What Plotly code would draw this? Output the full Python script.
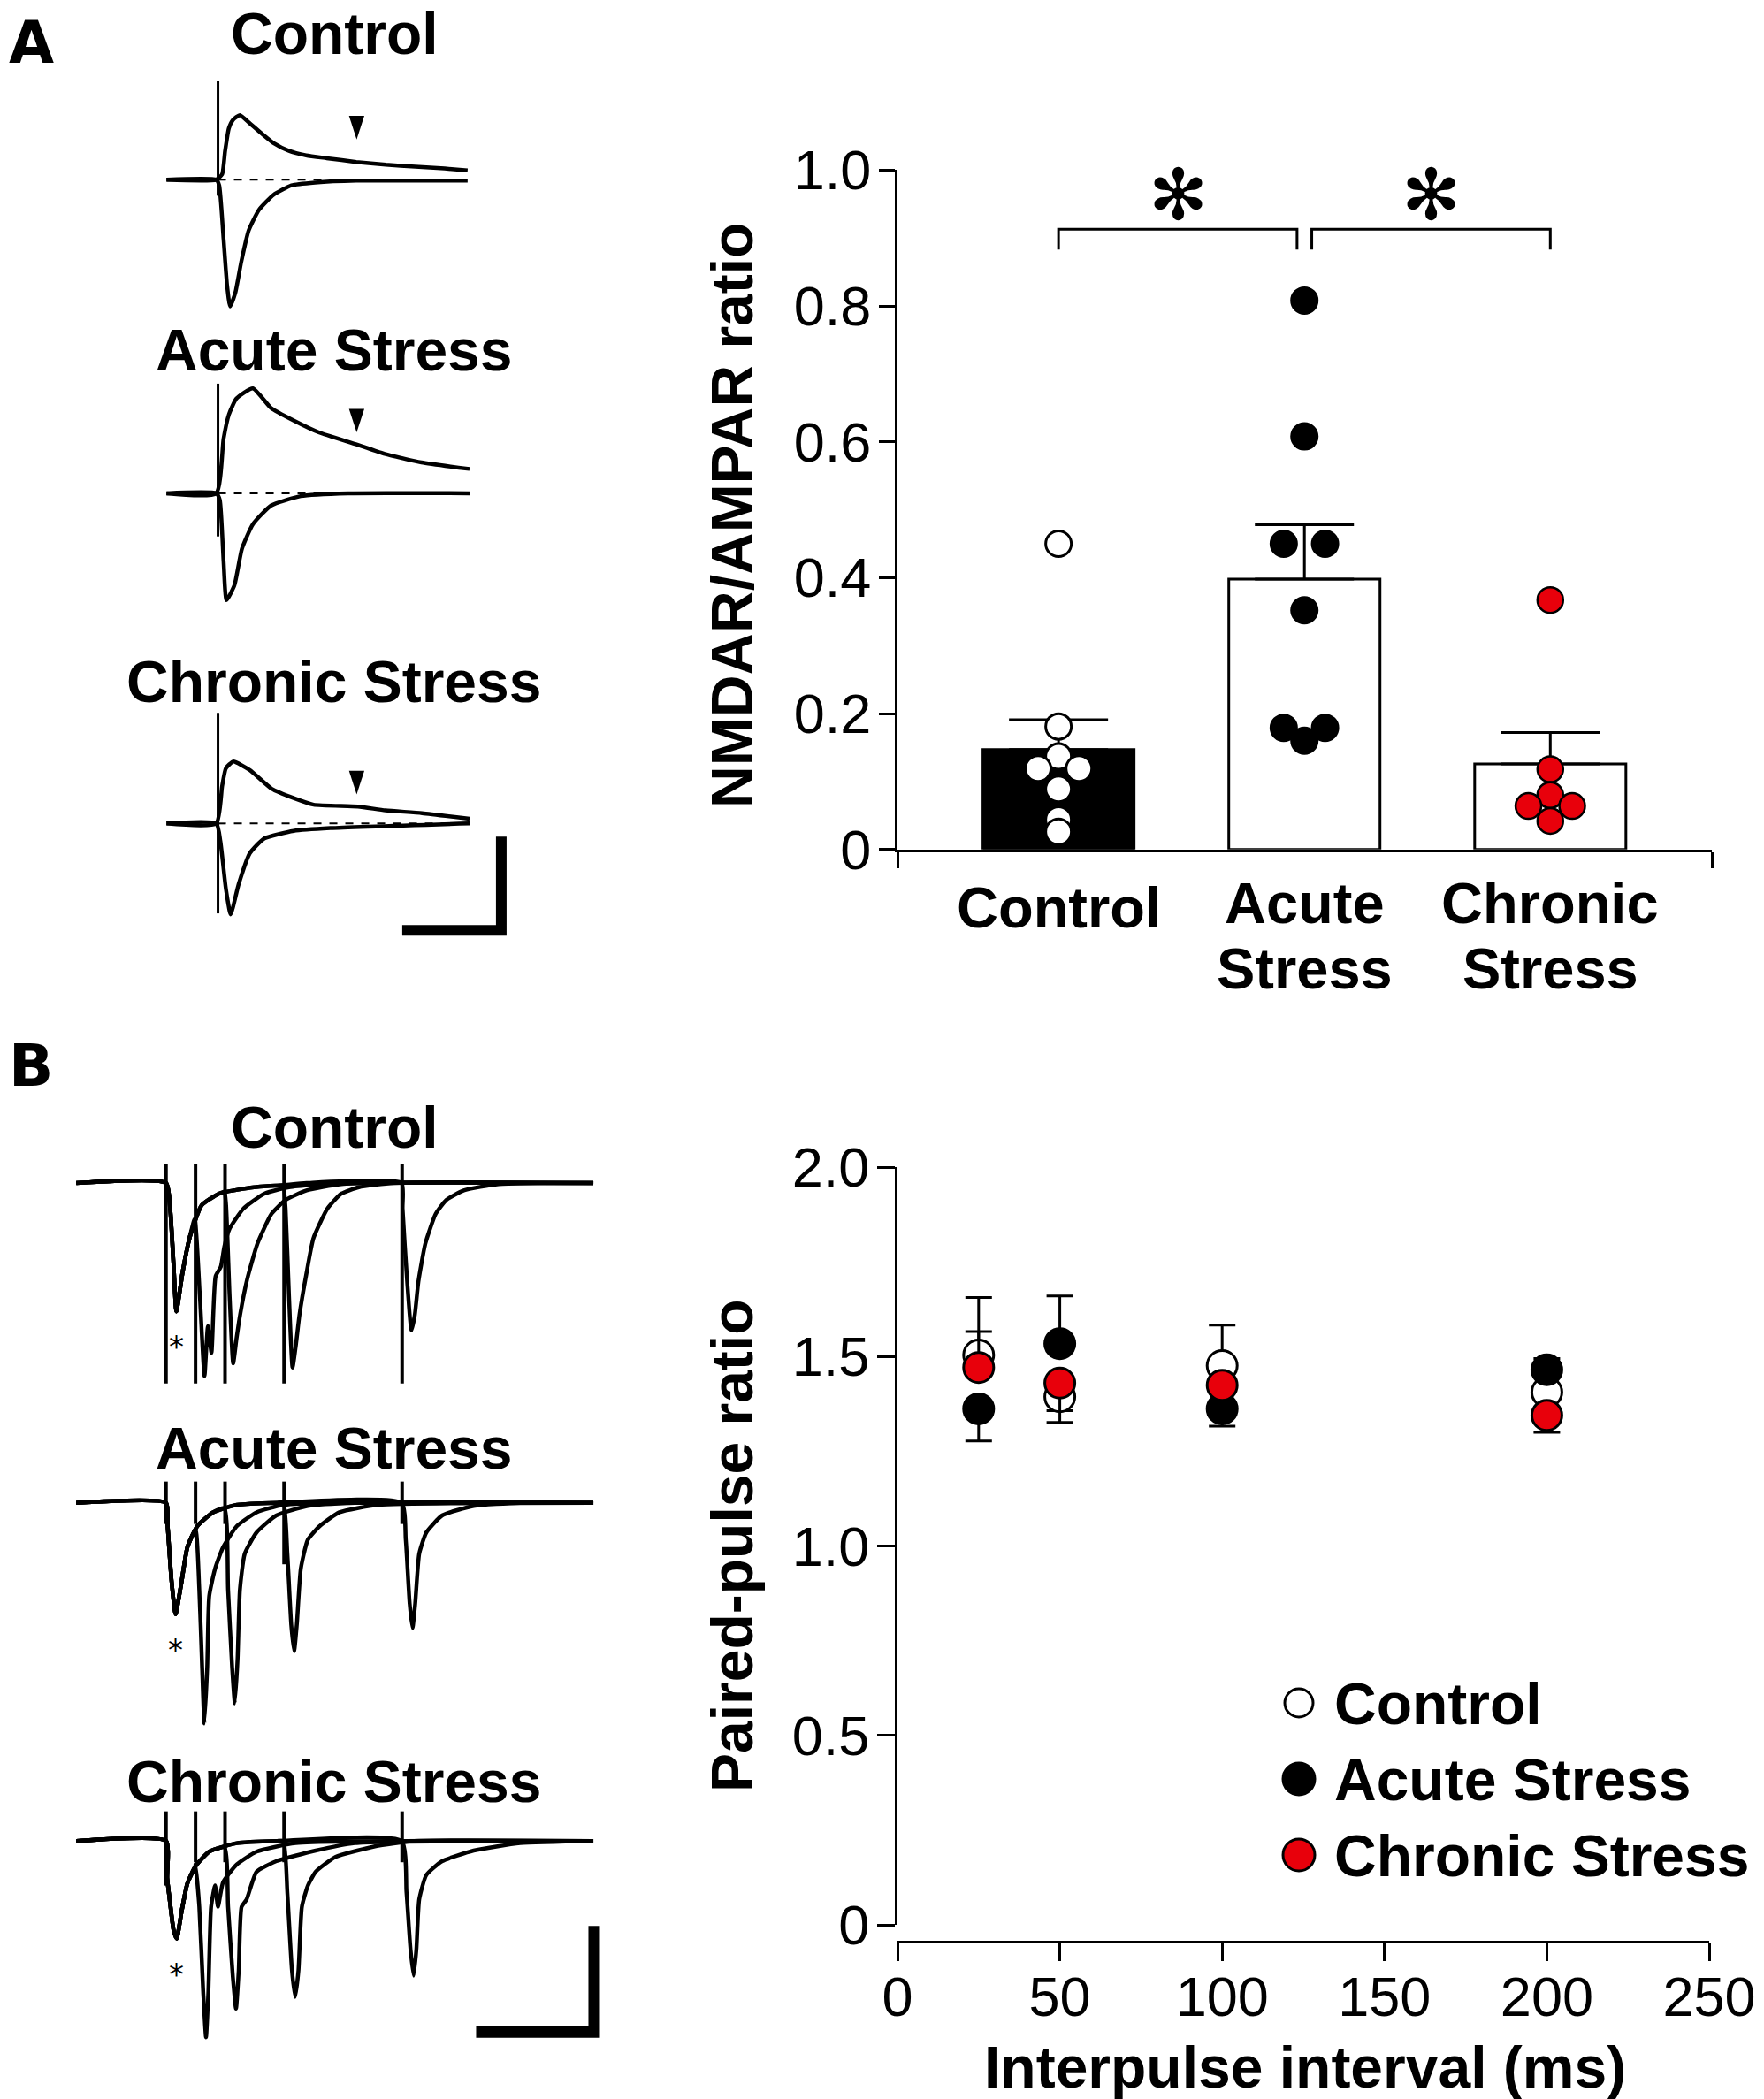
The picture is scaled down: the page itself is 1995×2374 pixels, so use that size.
import plotly.graph_objects as go

W, H = 1995, 2374
FONT = "Liberation Sans, Arial, Helvetica, sans-serif"
SYMFONT = "DejaVu Sans"
RED = "#e8000b"

# ===================== DATA =====================
# Panel A (right): NMDAR/AMPAR ratio
group_pos = [0, 1, 2]
group_lines = [["Control"], ["Acute", "Stress"], ["Chronic", "Stress"]]
bar_mean = [0.147, 0.398, 0.126]
bar_sem = [0.044, 0.080, 0.046]
pts_control = [0.450, 0.181, 0.137, 0.119, 0.119, 0.089, 0.044, 0.026]
pts_acute = [0.808, 0.608, 0.450, 0.450, 0.352, 0.179, 0.179, 0.160]
pts_chronic = [0.367, 0.118, 0.080, 0.064, 0.064, 0.042]
sig_pairs = [(0, 1), (1, 2)]
sig_label = "\u273B"

# Panel B (right): paired-pulse ratio
intervals = [25, 50, 100, 200]
ppr_control = [1.504, 1.394, 1.476, 1.406]
ppr_control_up = [0.062, 0, 0.107, 0]
ppr_control_dn = [0, 0.037, 0, 0]
ppr_acute = [1.362, 1.534, 1.362, 1.465]
ppr_acute_up = [0, 0.126, 0, 0.03]
ppr_acute_dn = [0.085, 0, 0.046, 0]
ppr_chronic = [1.471, 1.430, 1.424, 1.345]
ppr_chronic_up = [0.185, 0, 0, 0]
ppr_chronic_dn = [0, 0.104, 0, 0.045]
legend_names = ["Control", "Acute Stress", "Chronic Stress"]

# Panel A (left): example NMDAR (upper) / AMPAR (lower) EPSCs, t in ms, I in pA
A_titles = ["Control", "Acute Stress", "Chronic Stress"]
A_up_t = [[-26, -0.9, 2.1, 3.6, 5.5, 7.6, 11.0, 16.2, 22.2, 28.1, 35.6, 44.5, 54.9, 69.8, 84.7, 99.6, 114.4, 126],
          [-26, -0.9, 2.8, 5.5, 9.3, 17.6, 26.8, 37.9, 50.9, 70.3, 84.2, 102.7, 127],
          [-26, -0.9, 2.1, 4.0, 7.7, 16.0, 27.1, 38.2, 48.3, 70.6, 84.5, 103, 127]]
A_up_i = [[0, 0, 6, 31, 55, 64, 69, 60, 49, 39, 31, 26, 23, 19, 16, 14, 12, 10],
          [0, 0, 58, 84, 101, 112, 91, 78, 65, 52, 42, 33, 26],
          [0, 0, 40, 59, 66, 57, 37, 27, 20, 18, 14, 11, 5]]
A_lo_t = [[-26, -0.9, 0.6, 2.8, 4.6, 6.1, 8.8, 11.7, 15.5, 20.7, 28.1, 37.1, 49, 69.8, 126],
          [-26, -0.9, 0.9, 2.8, 4.3, 8.3, 12.1, 17.6, 26.8, 41.7, 65.7, 127],
          [-26, -0.9, 1.2, 4.0, 6.4, 10.4, 16.0, 23.4, 38.2, 56.7, 127]]
A_lo_i = [[0, 0, -6, -63, -113, -135, -120, -88, -54, -32, -16, -6, -3, -1, -1],
          [0, 0, -7, -72, -114, -98, -59, -33, -13, -3, 0, 0],
          [0, 0, -19, -70, -97, -65, -32, -16, -8, -5, 0]]
A_stim_top = [105, 117, 118]
A_stim_bot = [-17, -46, -96]
A_arrow_t = 70
A_arrow_tip = [43, 65, 31]
A_scale = (50, 100)  # ms, pA

# Panel B (left): paired-pulse EPSCs
B_titles = ["Control", "Acute Stress", "Chronic Stress"]
B_stim_t = [0, 25, 50, 100, 200]
B_first_t = [[-76, 0, 3.5, 6.5, 8.8, 13.9, 19.9, 30.2, 45, 74.6, 99, 119, 362],
             [-76, 0, 1.4, 4.8, 8.1, 13.1, 18.1, 26.5, 39.9, 60, 94, 362],
             [-76, 0, 1.0, 3.1, 6.4, 9.1, 13.1, 18.1, 24.8, 36.6, 60, 94, 362]]
B_first_i = [[0, 0, -24, -79, -121, -85, -52, -21, -10, -4, -2, 0, 0],
             [0, 0, -22, -75, -105, -75, -42, -22, -9, -2, 0, 0],
             [0, 0, -35, -55, -84, -92, -67, -40, -24, -10, -2, 0, 0]]
B_second_t = [
    [[24.3, 28.7, 32.6, 35.5, 38.5, 42, 46.4, 49.4, 53.9, 65.7, 83.4, 104.2, 150, 362],
     [49.5, 50.9, 53.9, 56.9, 59.8, 62.8, 68.7, 77.5, 89.4, 101.3, 119, 148.6, 362],
     [99.5, 101.3, 104.2, 107.2, 110.1, 113.1, 119, 124.9, 136.8, 148.6, 163.4, 193, 362],
     [199.5, 200.4, 204.3, 207.9, 210.8, 213.8, 219.7, 228.5, 237.4, 252.2, 281.8, 362]],
    [[25, 28.2, 30.6, 32.5, 34.9, 36.6, 41.6, 48.3, 60, 76.7, 100, 362],
     [49.5, 52.6, 56, 58.3, 60.6, 62.6, 66.7, 76.7, 93.4, 120, 160, 362],
     [99.5, 102.8, 106.1, 108.5, 110.8, 114.2, 120.1, 130.2, 146.9, 180, 362],
     [199.5, 203.1, 206.4, 208.8, 211.1, 214.5, 220.5, 233.9, 260.6, 300, 362]],
    [[25, 28.2, 31.5, 33.9, 35.9, 38.2, 41.6, 44, 48.3, 60, 76.7, 110, 362],
     [49.5, 52.6, 56.6, 59.3, 61.6, 64, 68.3, 76.7, 93.4, 126.8, 160, 362],
     [99.5, 102.8, 106.7, 109.4, 112.2, 115.1, 120.2, 126.8, 143.5, 177, 210, 362],
     [199.5, 203.7, 207.1, 209.8, 212.1, 214.5, 220.5, 233.9, 260.6, 300, 362]]]
B_second_i = [
    [[-34, -107, -182, -135, -160, -88, -79, -60, -43, -24, -10, -4, 0, 0],
     [-8, -21, -107, -170, -146, -124, -91, -57, -29, -16, -7, -1, 0],
     [-2, -24, -107, -174, -152, -124, -85, -52, -24, -10, -4, 0, 0],
     [0, -24, -93, -139, -124, -93, -57, -29, -16, -7, -1, 0]],
    [[-25, -82, -155, -208, -155, -88, -62, -42, -22, -9, -2, 0],
     [-5, -82, -155, -189, -148, -82, -48, -28, -12, -3, 0, 0],
     [0, -48, -115, -140, -115, -62, -35, -22, -9, -2, 0],
     [0, -35, -95, -118, -95, -48, -28, -12, -3, 0, 0]],
    [[-22, -62, -142, -185, -142, -62, -42, -62, -39, -22, -10, -2, 0],
     [-6, -62, -128, -158, -122, -62, -55, -29, -19, -9, -2, 0],
     [0, -49, -122, -147, -122, -62, -42, -29, -15, -5, 0, 0],
     [0, -48, -102, -127, -102, -55, -32, -19, -9, -2, 0]]]
B_stim_top = [18, 20, 28]
B_stim_bot = [[-189, -189, -189, -189, -189],
              [-20, -20, -20, -58, -20],
              [-42, -20, -20, -20, -20]]
B_scale = (100, 100)  # ms, pA

# ===================== LAYOUT HELPERS =====================
def fx(px):
    return px / W


def fy(py):
    return 1 - py / H


fig = go.Figure()

# ---------- Bar chart (top right) ----------
jit_control = [0, 0, 0, -0.083, 0.083, 0, 0, 0]
jit_acute = [0, 0, -0.084, 0.084, 0, -0.084, 0.084, 0]
jit_chronic = [0, 0, 0, -0.089, 0.089, 0]

fig.add_trace(go.Bar(
    x=group_pos, y=bar_mean, width=0.615,
    marker=dict(color=["black", "white", "white"], line=dict(color="black", width=3)),
    error_y=dict(type="data", symmetric=False, array=bar_sem, arrayminus=[0, 0, 0],
                 width=56, thickness=3, color="black"),
    xaxis="x", yaxis="y", showlegend=False))

for pos, pts, jit, col, lw in [(0, pts_control, jit_control, "white", 3),
                               (1, pts_acute, jit_acute, "black", 3),
                               (2, pts_chronic, jit_chronic, RED, 2.5)]:
    fig.add_trace(go.Scatter(
        x=[pos + j for j in jit], y=pts, mode="markers",
        marker=dict(size=29, color=col, line=dict(color="black", width=lw)),
        xaxis="x", yaxis="y", showlegend=False, cliponaxis=False))

# significance brackets
br_top, br_bot = 0.913, 0.883
gap = 0.03
shapes = []
annotations = []
for k, (a, b) in enumerate(sig_pairs):
    x0 = a + (gap if k > 0 else 0)
    x1 = b - (gap if k == 0 else 0)
    fig.add_trace(go.Scatter(x=[x0, x0, x1, x1], y=[br_bot, br_top, br_top, br_bot],
                             mode="lines", line=dict(color="black", width=3),
                             xaxis="x", yaxis="y", showlegend=False, hoverinfo="skip",
                             cliponaxis=False))
    annotations.append(dict(text=sig_label, x=(x0 + x1) / 2, y=0.963, xref="x", yref="y",
                            showarrow=False, xanchor="center", yanchor="middle",
                            font=dict(family=SYMFONT, size=80, color="black")))

# category labels
for pos, lines in zip(group_pos, group_lines):
    ys = [1026] if len(lines) == 1 else [1021, 1095]
    for txt, ypx in zip(lines, ys):
        annotations.append(dict(text="<b>%s</b>" % txt, x=pos, y=fy(ypx),
                                xref="x", yref="paper", showarrow=False,
                                xanchor="center", yanchor="middle",
                                font=dict(family=FONT, size=65, color="black")))

# ---------- PPR chart (bottom right) ----------
for vals, up, dn, col in [(ppr_control, ppr_control_up, ppr_control_dn, "white"),
                          (ppr_acute, ppr_acute_up, ppr_acute_dn, "black"),
                          (ppr_chronic, ppr_chronic_up, ppr_chronic_dn, RED)]:
    fig.add_trace(go.Scatter(
        x=intervals, y=vals, mode="markers",
        marker=dict(size=34, color=col, line=dict(color="black", width=3)),
        error_y=dict(type="data", symmetric=False, array=up, arrayminus=dn,
                     width=15, thickness=3, color="black"),
        xaxis="x2", yaxis="y2", showlegend=False, cliponaxis=False))

# legend (manual)
leg_rows = [1926, 2012, 2098]
leg_fill = ["white", "black", RED]
leg_r = [16, 18, 18]
for name, row, fill, r in zip(legend_names, leg_rows, leg_fill, leg_r):
    shapes.append(dict(type="circle", xref="paper", yref="paper",
                       xsizemode="pixel", ysizemode="pixel",
                       xanchor=fx(1469), yanchor=fy(row), x0=-r, x1=r, y0=-r, y1=r,
                       fillcolor=fill, line=dict(color="black", width=3)))
    annotations.append(dict(text="<b>%s</b>" % name, x=fx(1507), y=fy(row + 1),
                            xref="paper", yref="paper", showarrow=False,
                            xanchor="left", yanchor="middle",
                            font=dict(family=FONT, size=66, color="black")))

# ---------- Panel A traces ----------
TR = dict(color="black", width=4.5, shape="spline", smoothing=0.5)
A_yaxes = ["y3", "y4", "y5"]
for k in range(3):
    ya = A_yaxes[k]
    fig.add_trace(go.Scatter(x=[0, 127], y=[0, 0], mode="lines",
                             line=dict(color="black", width=2, dash="dash"),
                             xaxis="x3", yaxis=ya, showlegend=False, hoverinfo="skip"))
    fig.add_trace(go.Scatter(x=[0, 0], y=[A_stim_top[k], A_stim_bot[k]], mode="lines",
                             line=dict(color="black", width=3),
                             xaxis="x3", yaxis=ya, showlegend=False, hoverinfo="skip"))
    fig.add_trace(go.Scatter(x=A_lo_t[k], y=A_lo_i[k], mode="lines", line=TR,
                             xaxis="x3", yaxis=ya, showlegend=False, hoverinfo="skip"))
    fig.add_trace(go.Scatter(x=A_up_t[k], y=A_up_i[k], mode="lines", line=TR,
                             xaxis="x3", yaxis=ya, showlegend=False, hoverinfo="skip"))
    fig.add_trace(go.Scatter(x=[A_arrow_t], y=[A_arrow_tip[k]], mode="markers",
                             marker=dict(symbol="arrow", angle=180, size=28, color="black"),
                             xaxis="x3", yaxis=ya, showlegend=False, hoverinfo="skip"))

# scale bar A (in chronic panel)
ca_t, ca_i = 143, -114
fig.add_trace(go.Scatter(x=[ca_t - A_scale[0], ca_t, ca_t], y=[ca_i, ca_i, ca_i + A_scale[1]],
                         mode="lines", line=dict(color="black", width=12),
                         xaxis="x3", yaxis="y5", showlegend=False, hoverinfo="skip"))

# ---------- Panel B traces ----------
TRB = dict(color="black", width=4.5, shape="spline", smoothing=0.5)
B_yaxes = ["y6", "y7", "y8"]
for k in range(3):
    ya = B_yaxes[k]
    sx, sy = [], []
    for t, b in zip(B_stim_t, B_stim_bot[k]):
        sx += [t, t, None]
        sy += [B_stim_top[k], b, None]
    fig.add_trace(go.Scatter(x=sx, y=sy, mode="lines", line=dict(color="black", width=4),
                             xaxis="x6", yaxis=ya, showlegend=False, hoverinfo="skip"))
    ft, fi = B_first_t[k], B_first_i[k]
    for st, si in zip(B_second_t[k], B_second_i[k]):
        tt = [t for t in ft if t < st[0]] + st
        ii = [i for t, i in zip(ft, fi) if t < st[0]] + si
        fig.add_trace(go.Scatter(x=tt, y=ii, mode="lines", line=TRB,
                                 xaxis="x6", yaxis=ya, showlegend=False, hoverinfo="skip"))
    mi = min(fi)
    annotations.append(dict(text="*", x=ft[fi.index(mi)], y=mi, xref="x6", yref=ya,
                            showarrow=False, xanchor="center", yanchor="middle", yshift=-40,
                            font=dict(family=SYMFONT, size=34, color="black")))

cb_t, cb_i = 362.7, -180
fig.add_trace(go.Scatter(x=[cb_t - B_scale[0], cb_t, cb_t], y=[cb_i, cb_i, cb_i + B_scale[1]],
                         mode="lines", line=dict(color="black", width=13),
                         xaxis="x6", yaxis="y8", showlegend=False, hoverinfo="skip"))

# ---------- Text ----------
def label(text, xpx, ypx, size=66, xanchor="center", angle=0, family=FONT):
    return dict(text="<b>%s</b>" % text, x=fx(xpx), y=fy(ypx), xref="paper", yref="paper",
                showarrow=False, xanchor=xanchor, yanchor="middle", textangle=angle,
                font=dict(family=family, size=size, color="black"))

annotations += [
    label("A", 8, 48, size=66, xanchor="left", family=SYMFONT),
    label("B", 8, 1206, size=66, xanchor="left", family=SYMFONT),
    label(A_titles[0], 378, 38), label(A_titles[1], 378, 396), label(A_titles[2], 377, 771),
    label(B_titles[0], 378, 1275), label(B_titles[1], 378, 1638), label(B_titles[2], 377, 2015),
    label("NMDAR/AMPAR ratio", 828, 583, angle=-90),
    label("Paired-pulse ratio", 828, 1748, angle=-90),
    label("Interpulse interval (ms)", 1476, 2338),
]

AX = dict(showline=True, linecolor="black", linewidth=3, ticks="outside", tickwidth=3,
          tickcolor="black", showgrid=False, zeroline=False, fixedrange=True,
          automargin=False, tickfont=dict(family=FONT, size=63, color="black"))
HID = dict(visible=False, fixedrange=True, showgrid=False, zeroline=False, automargin=False)

fig.update_layout(
    width=W, height=H, margin=dict(l=0, r=0, t=0, b=0, pad=0, autoexpand=False),
    paper_bgcolor="white", plot_bgcolor="rgba(0,0,0,0)", showlegend=False,
    xaxis=dict(AX, domain=[fx(1015), fx(1936)], range=[-0.655, 2.657], anchor="y",
               tickvals=[-0.655, 2.657], showticklabels=False, ticklen=18),
    yaxis=dict(AX, domain=[fy(960.7), fy(192.4)], range=[0, 1], anchor="x", ticklen=18,
               tickvals=[0, 0.2, 0.4, 0.6, 0.8, 1.0],
               ticktext=["0", "0.2", "0.4", "0.6", "0.8", "1.0"], ticklabelstandoff=-4),
    xaxis2=dict(AX, domain=[fx(1015), fx(1933)], range=[0, 250], anchor="free",
                position=fy(2196), ticklen=20, tickvals=[0, 50, 100, 150, 200, 250],
                ticklabelstandoff=-14),
    yaxis2=dict(AX, domain=[fy(2177), fy(1320)], range=[0, 2], anchor="x2", ticklen=20,
                tickvals=[0, 0.5, 1.0, 1.5, 2.0], ticktext=["0", "0.5", "1.0", "1.5", "2.0"],
                ticklabelstandoff=-4),
    xaxis3=dict(HID, domain=[fx(180), fx(590)], range=[-29.7, 153.3], anchor="y3"),
    yaxis3=dict(HID, domain=[fy(360), fy(80)], range=[-147.8, 116.3], anchor="x3"),
    yaxis4=dict(HID, domain=[fy(700), fy(425)], range=[-134, 125.4], anchor="x3"),
    yaxis5=dict(HID, domain=[fy(1060), fy(800)], range=[-121.4, 123.9], anchor="x3"),
    xaxis6=dict(HID, domain=[fx(80), fx(690)], range=[-80.7, 376.2], anchor="y6"),
    yaxis6=dict(HID, domain=[fy(1580), fy(1305)], range=[-201.7, 27.5], anchor="x6"),
    yaxis7=dict(HID, domain=[fy(1960), fy(1670)], range=[-217, 24.7], anchor="x6"),
    yaxis8=dict(HID, domain=[fy(2320), fy(2040)], range=[-198.2, 35.2], anchor="x6"),
    shapes=shapes, annotations=annotations,
)

fig.write_html("out.html", post_script="document.body.style.margin='0px';",
               config={"displayModeBar": False})
